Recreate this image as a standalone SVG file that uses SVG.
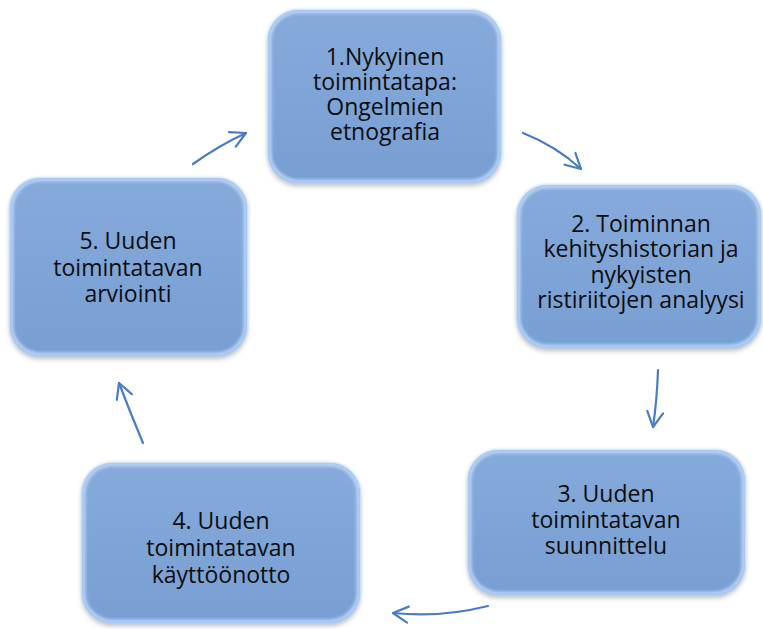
<svg xmlns="http://www.w3.org/2000/svg" width="763" height="629" viewBox="0 0 763 629">
<style>
.box{fill:url(#fillg);filter:url(#shadow)}
.edge{fill:none;stroke:#b8d4f8;stroke-width:4;filter:url(#soft)}
.lbl{font-family:"Open Sans","Noto Sans","Liberation Sans",sans-serif;font-size:23px;fill:#0d0d0d;text-anchor:middle}
.conn path{fill:none;stroke:#4a7cc4;stroke-width:2.2;stroke-linecap:round;marker-end:url(#arr)}
</style>
<defs>
<linearGradient id="fillg" x1="0" y1="0" x2="0" y2="1">
<stop offset="0" stop-color="#86aadb"/>
<stop offset="0.5" stop-color="#7fa4d7"/>
<stop offset="1" stop-color="#789fd2"/>
</linearGradient>
<filter id="shadow" x="-10%" y="-10%" width="120%" height="125%">
<feDropShadow dx="0" dy="3" stdDeviation="2.5" flood-color="#6d6d6d" flood-opacity="0.45"/>
</filter>
<filter id="soft" x="-5%" y="-5%" width="110%" height="110%">
<feGaussianBlur stdDeviation="1.5"/>
</filter>
<marker id="arr" viewBox="0 0 20 20" refX="17" refY="10" markerWidth="20" markerHeight="20" markerUnits="userSpaceOnUse" orient="auto">
<path d="M2,2 L17,10 L2,18" fill="none" stroke="#4a7cc4" stroke-width="2.2" stroke-linecap="round" stroke-linejoin="round"/>
</marker>
</defs>
<rect width="763" height="629" fill="#ffffff"/>
<g class="conn" id="connectors">
<path d="M193,164 Q218,146 246,133"/>
<path d="M523,133 Q556,146 581,169"/>
<path d="M658,370 Q657,400 653,427"/>
<path d="M488,606 Q440,618 393,613"/>
<path d="M143,443 Q130,412 119,383"/>
</g>
<g id="node1">
<rect class="box" x="268" y="10" width="233" height="173" rx="30"/>
<rect class="edge" x="269.5" y="11.5" width="230" height="170" rx="29"/>
<text class="lbl" x="385" y="65">1.Nykyinen</text>
<text class="lbl" x="385" y="90">toimintatapa:</text>
<text class="lbl" x="385" y="115">Ongelmien</text>
<text class="lbl" x="385" y="140">etnografia</text>
</g>
<g id="node2">
<rect class="box" x="517" y="185" width="244" height="163" rx="30"/>
<rect class="edge" x="518.5" y="186.5" width="241" height="160" rx="29"/>
<text class="lbl" x="641" y="232">2. Toiminnan</text>
<text class="lbl" x="641" y="257">kehityshistorian ja</text>
<text class="lbl" x="641" y="283">nykyisten</text>
<text class="lbl" x="641" y="308">ristiriitojen analyysi</text>
</g>
<g id="node3">
<rect class="box" x="468" y="450" width="277" height="145" rx="30"/>
<rect class="edge" x="469.5" y="451.5" width="274" height="142" rx="29"/>
<text class="lbl" x="606" y="502">3. Uuden</text>
<text class="lbl" x="606" y="528">toimintatavan</text>
<text class="lbl" x="606" y="554">suunnittelu</text>
</g>
<g id="node4">
<rect class="box" x="82" y="463" width="278" height="160" rx="30"/>
<rect class="edge" x="83.5" y="464.5" width="275" height="157" rx="29"/>
<text class="lbl" x="221" y="529">4. Uuden</text>
<text class="lbl" x="221" y="556">toimintatavan</text>
<text class="lbl" x="221" y="583">käyttöönotto</text>
</g>
<g id="node5">
<rect class="box" x="10" y="178" width="237" height="178" rx="30"/>
<rect class="edge" x="11.5" y="179.5" width="234" height="175" rx="29"/>
<text class="lbl" x="128" y="249">5. Uuden</text>
<text class="lbl" x="128" y="276">toimintatavan</text>
<text class="lbl" x="128" y="302">arviointi</text>
</g>
</svg>
